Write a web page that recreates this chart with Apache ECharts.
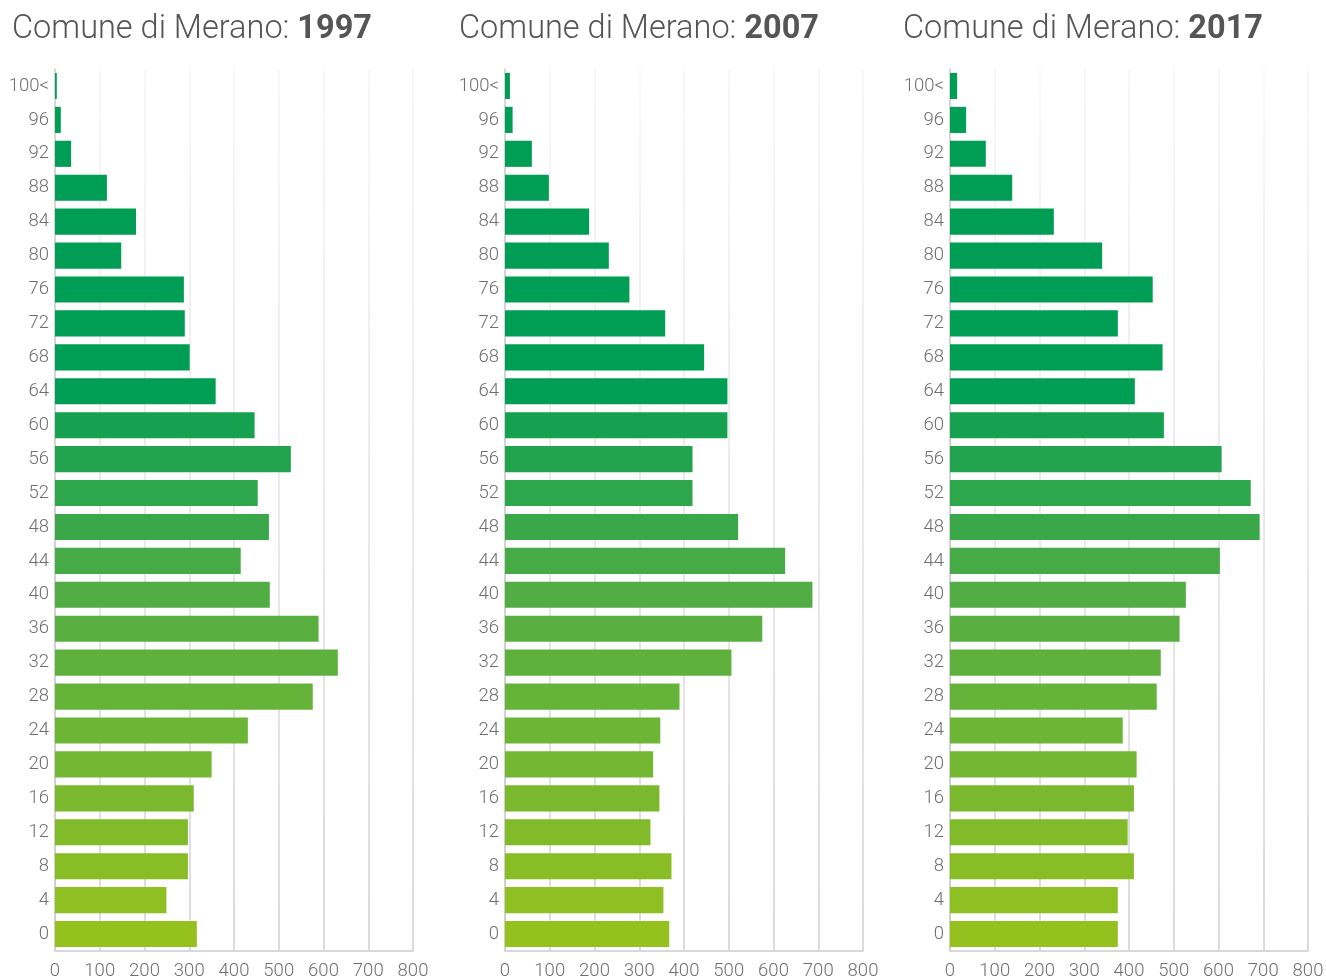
<!DOCTYPE html>
<html>
<head>
<meta charset="utf-8">
<script src="https://cdn.jsdelivr.net/npm/echarts@6/dist/echarts.min.js"></script>
<style>
  html, body { margin: 0; padding: 0; background: #fff; }
  #chart { width: 1326px; height: 979px; }
</style>
</head>
<body>
<div id="chart"></div>
<script>
// age classes, bottom to top
const ages = ['0', '4', '8', '12', '16', '20', '24', '28', '32', '36', '40', '44', '48',
  '52', '56', '60', '64', '68', '72', '76', '80', '84', '88', '92', '96', '100<']
const years = ['1997', '2007', '2017']
const xTicks = [0, 100, 200, 300, 400, 500, 600, 700, 800]

// residents per age class
const pop1997 = [317, 249, 297, 297, 310, 350, 431, 576, 632, 589, 480, 415, 478,
  453, 527, 446, 359, 301, 290, 288, 148, 181, 116, 36, 13, 4]
const pop2007 = [367, 354, 372, 325, 345, 331, 347, 390, 506, 575, 687, 626, 521,
  419, 419, 497, 497, 445, 358, 278, 232, 188, 98, 60, 17, 11]
const pop2017 = [375, 375, 411, 397, 411, 417, 386, 462, 471, 513, 527, 603, 692,
  672, 607, 478, 413, 475, 375, 453, 340, 232, 139, 80, 36, 16]
const seriesData = [pop1997, pop2007, pop2017]

// colour ramp: yellow-green at the bottom, dark green from 64 upwards
const colorStops = [[0, '#95c11f'], [10, '#52ad44'], [15, '#16a150'], [16, '#009d54']]
function mix(a, b, t) {
  const pa = [1, 3, 5].map(i => parseInt(a.slice(i, i + 2), 16))
  const pb = [1, 3, 5].map(i => parseInt(b.slice(i, i + 2), 16))
  return 'rgb(' + pa.map((v, i) => Math.round(v + (pb[i] - v) * t)).join(',') + ')'
}
function barColor(idx) {
  for (let s = 0; s < colorStops.length - 1; s++) {
    const [i0, c0] = colorStops[s]
    const [i1, c1] = colorStops[s + 1]
    if (idx <= i1) return mix(c0, c1, (idx - i0) / (i1 - i0))
  }
  return colorStops[colorStops.length - 1][1]
}

const lefts = [55, 505, 950]
const titleLefts = [7, 454, 898]
const labelFont = { color: '#6f6f6f', fontSize: 18.5, fontFamily: 'Roboto', fontWeight: 300 }

const chart = echarts.init(document.getElementById('chart'))

const grids = [], xAxes = [], yAxes = [], series = [], titles = []
years.forEach((yr, k) => {
  grids.push({
    left: lefts[k], width: 358, top: 69, height: 882,
    containLabel: false, outerBoundsMode: 'none'
  })
  titles.push({
    text: '{a|Comune di Merano: }{b|' + yr + '}',
    left: titleLefts[k], top: 8,
    textStyle: {
      rich: {
        a: { fontFamily: 'Roboto', fontWeight: 300, fontSize: 32.5, color: '#555' },
        b: { fontFamily: 'Roboto', fontWeight: 'bold', fontSize: 32.5, color: '#555' }
      }
    }
  })
  xAxes.push({
    type: 'value', gridIndex: k, min: xTicks[0], max: xTicks[xTicks.length - 1], interval: 100,
    axisLine: { show: true, lineStyle: { color: '#d8d8d8', width: 2 } },
    axisTick: { show: false },
    axisLabel: Object.assign({ margin: 11 }, labelFont),
    splitLine: {
      show: true,
      lineStyle: {
        width: 1.5,
        color: new echarts.graphic.LinearGradient(0, 0, 0, 1, [
          { offset: 0, color: '#f6f6f6' },
          { offset: 1, color: '#cfcfcf' }
        ])
      }
    }
  })
  yAxes.push({
    type: 'category', gridIndex: k, data: ages,
    axisLine: { show: true, lineStyle: { color: '#cccccc', width: 1.5 } },
    axisTick: { show: false },
    axisLabel: Object.assign({ margin: 6 }, labelFont)
  })
  series.push({
    type: 'bar', xAxisIndex: k, yAxisIndex: k,
    barCategoryGap: '23%',
    data: seriesData[k].map((v, i) => ({ value: v, itemStyle: { color: barColor(i) } })),
    silent: true
  })
})

chart.setOption({
  animation: false,
  title: titles,
  grid: grids,
  xAxis: xAxes,
  yAxis: yAxes,
  series: series
})
</script>
</body>
</html>
